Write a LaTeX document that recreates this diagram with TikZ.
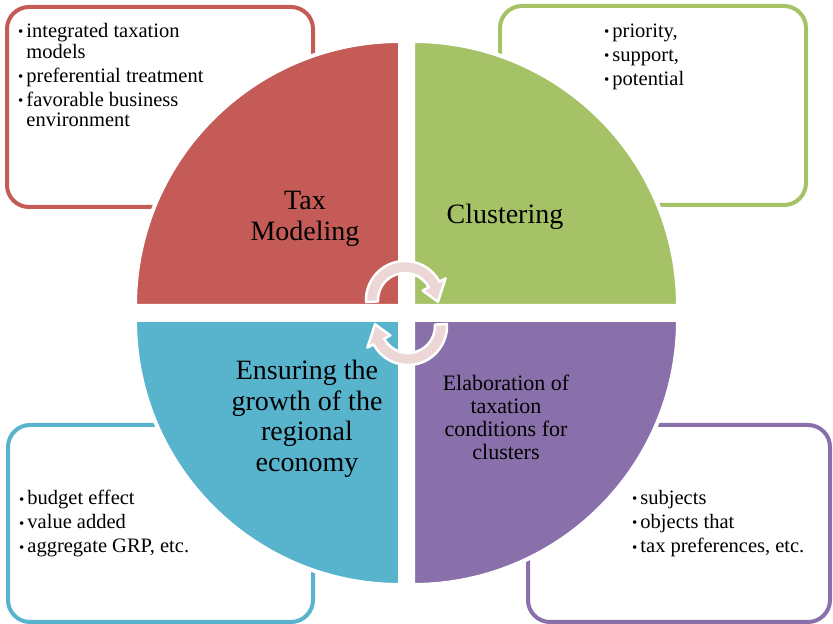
\documentclass[tikz,border=0pt]{standalone}
\usepackage{fontspec}
\setmainfont{Liberation Serif}
\definecolor{qred}{RGB}{196,91,86}
\definecolor{qgreen}{RGB}{165,194,102}
\definecolor{qblue}{RGB}{88,179,205}
\definecolor{qpurple}{RGB}{138,112,170}
\definecolor{cyclefill}{RGB}{236,214,214}
% raised bullet for the note lists
\newcommand{\bul}{\raisebox{0.6pt}{\fontsize{15}{15}\selectfont\textbullet}}
\begin{document}
\begin{tikzpicture}[x=1pt,y=1pt,
  card/.style={rectangle, rounded corners=22pt, line width=4pt, fill=white, inner sep=0pt},
  quad/.style={draw=white, line width=4pt},
  notes/.style={inner sep=0pt, anchor=north west, align=left,
    font=\fontsize{20.5}{20.5}\selectfont},
  biglabel/.style={inner sep=0pt, align=center, font=\fontsize{28}{30.5}\selectfont},
  midlabel/.style={inner sep=0pt, align=center, font=\fontsize{22}{23}\selectfont},
  cyclearrow/.style={fill=cyclefill, draw=white, line width=2.5pt, line join=round}]
\useasboundingbox (0,0) rectangle (833,624);
\fill[white] (0,0) rectangle (833,624);

% note cards in the four corners
\node[card, draw=qred, minimum width=306pt, minimum height=200pt] (redcard) at (160,517) {};
\node[card, draw=qgreen, minimum width=306pt, minimum height=199pt] (greencard) at (653,518.5) {};
\node[card, draw=qblue, minimum width=305pt, minimum height=197pt] (bluecard) at (160.5,100.5) {};
\node[card, draw=qpurple, minimum width=302pt, minimum height=197pt] (purplecard) at (679,100.5) {};

% four quarter discs of the central circle
\fill[qred, quad] (400,318) -- ++(-265,0) arc[start angle=180, end angle=90, radius=265] -- cycle;
\fill[qgreen, quad] (413,318) -- ++(0,265) arc[start angle=90, end angle=0, radius=265] -- cycle;
\fill[qblue, quad] (400,304) -- ++(0,-265) arc[start angle=270, end angle=180, radius=265] -- cycle;
\fill[qpurple, quad] (413,304) -- ++(265,0) arc[start angle=0, end angle=-90, radius=265] -- cycle;

% quadrant titles
\node[biglabel] (tax) at (305,405) {Tax\\Modeling};
\node[biglabel] (clus) at (505,407) {Clustering};
\node[biglabel] (growth) at (307,205) {Ensuring the\\growth of the\\regional\\economy};
\node[midlabel] (elab) at (506,207) {Elaboration of\\taxation\\conditions for\\clusters};

% cycle arrows in the middle
\begin{scope}[shift={(405,324)}]
  \draw[cyclearrow] (183:39) arc[start angle=183, end angle=28, radius=39]
    -- (28:46) -- (-3:33) -- (28:20) -- (28:27)
    arc[start angle=28, end angle=183, radius=27] -- cycle;
\end{scope}
\begin{scope}[shift={(408,298)}]
  \draw[cyclearrow] (3:39) arc[start angle=3, end angle=-152, radius=39]
    -- (208:46) -- (177:33) -- (208:20) -- (208:27)
    arc[start angle=-152, end angle=3, radius=27] -- cycle;
\end{scope}

% bullet notes
\node[notes] (rednotes) at (18,601) {\begin{tabular}{@{}l@{\hspace{3pt}}l@{}}
  \bul & integrated taxation\\
       & models\\[3.5pt]
  \bul & preferential treatment\\[3.5pt]
  \bul & favorable business\\
       & environment
\end{tabular}};
\node[notes] (greennotes) at (604,601) {\begin{tabular}{@{}l@{\hspace{3pt}}l@{}}
  \bul & priority,\\[3.5pt]
  \bul & support,\\[3.5pt]
  \bul & potential
\end{tabular}};
\node[notes] (bluenotes) at (19,134) {\begin{tabular}{@{}l@{\hspace{3pt}}l@{}}
  \bul & budget effect\\[3.5pt]
  \bul & value added\\[3.5pt]
  \bul & aggregate GRP, etc.
\end{tabular}};
\node[notes] (purplenotes) at (632,134) {\begin{tabular}{@{}l@{\hspace{3pt}}l@{}}
  \bul & subjects\\[3.5pt]
  \bul & objects that\\[3.5pt]
  \bul & tax preferences, etc.
\end{tabular}};
\end{tikzpicture}
\end{document}
